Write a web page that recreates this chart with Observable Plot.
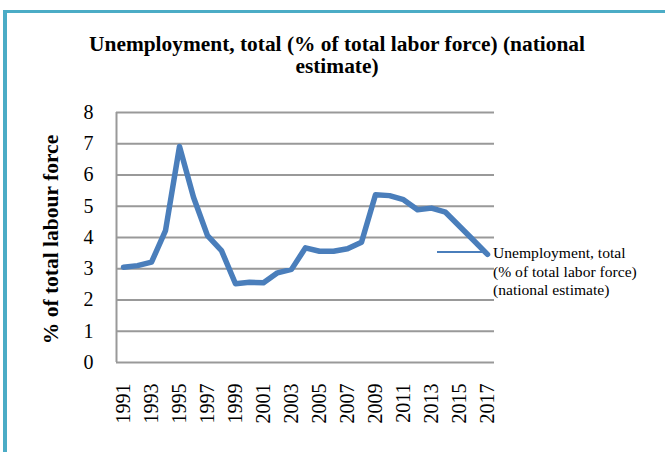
<!DOCTYPE html>
<html>
<head>
<meta charset="utf-8">
<script src="https://cdn.jsdelivr.net/npm/d3@7"></script>
<script src="https://cdn.jsdelivr.net/npm/@observablehq/plot@0.6"></script>
<style>
  html, body { margin: 0; padding: 0; background: #fff; }
  #wrap { position: relative; width: 665px; height: 452px; overflow: hidden; background: #fff; }
  #chart { position: absolute; left: 0; top: 0; }
  #frame { position: absolute; left: 3px; top: 10px; right: -10px; bottom: -10px; border-top: 3px solid #4BACC6; border-left: 4px solid #4BACC6; }
  #title { position: absolute; left: 9px; width: 656px; top: 33px; text-align: center; font-family: "Liberation Serif", serif; font-weight: bold; font-size: 21.4px; line-height: 22px; color: #000; }
  #legline { position: absolute; left: 437px; top: 251px; width: 50px; height: 0; border-top: 2.5px solid #4A7EBB; }
  #legtext { position: absolute; left: 493px; top: 244px; font-family: "Liberation Serif", serif; font-size: 15.6px; line-height: 18.5px; color: #000; white-space: nowrap; }
</style>
</head>
<body>
<div id="wrap">
  <div id="chart"></div>
  <div id="frame"></div>
  <div id="title">Unemployment, total (% of total labor force) (national<br>estimate)</div>
  <div id="legline"></div>
  <div id="legtext">Unemployment, total<br>(% of total labor force)<br>(national estimate)</div>
</div>
<script>
const years = [1991,1992,1993,1994,1995,1996,1997,1998,1999,2000,2001,2002,2003,2004,2005,2006,2007,2008,2009,2010,2011,2012,2013,2014,2015,2016,2017];
const unemployment = [3.05,3.10,3.21,4.22,6.91,5.29,4.06,3.58,2.52,2.57,2.55,2.87,2.98,3.67,3.56,3.56,3.64,3.85,5.37,5.34,5.21,4.89,4.94,4.81,4.36,3.91,3.46];
const xTicks = [1991,1993,1995,1997,1999,2001,2003,2005,2007,2009,2011,2013,2015,2017];
const yTicks = [0,1,2,3,4,5,6,7,8];
const yTitle = "% of total labour force";

const data = years.map((y, i) => ({year: y, value: unemployment[i]}));

const chart = Plot.plot({
  width: 665,
  height: 452,
  marginLeft: 116,
  marginRight: 171,
  marginTop: 112,
  marginBottom: 90,
  style: {background: "transparent", fontFamily: "Liberation Serif, serif", fontSize: "20px", color: "#000"},
  x: {domain: [1990.5, 2017.5]},
  y: {domain: [0, 8]},
  marks: [
    Plot.ruleY(yTicks, {stroke: "#999", strokeWidth: 2}),
    Plot.ruleX([1990.5], {stroke: "#999", strokeWidth: 2}),
    Plot.axisY({ticks: yTicks, tickSize: 0, tickPadding: 23, label: null, fontSize: 20}),
    Plot.axisX({ticks: xTicks, tickFormat: d => String(d), tickRotate: -90, tickSize: 0, tickPadding: 21, label: null, fontSize: 20}),
    Plot.text([yTitle], {frameAnchor: "left", rotate: -90, dx: -65, dy: 2, fontWeight: "bold", fontSize: 21.5, textAnchor: "middle", lineAnchor: "middle", fill: "#000"}),
    Plot.line(data, {x: "year", y: "value", stroke: "#4A7EBB", strokeWidth: 5.5, strokeLinejoin: "round", strokeLinecap: "round"})
  ]
});
document.getElementById("chart").appendChild(chart);
</script>
</body>
</html>
